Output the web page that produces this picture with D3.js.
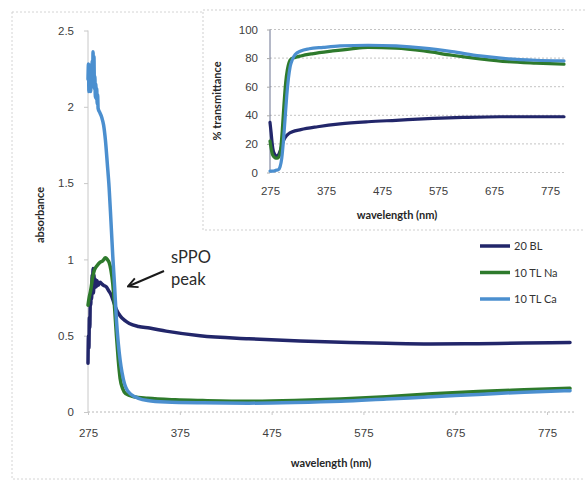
<!DOCTYPE html>
<html>
<head>
<meta charset="utf-8">
<script src="https://cdn.jsdelivr.net/npm/d3@7"></script>
<style>
  html, body { margin: 0; padding: 0; background: #fff; }
  svg { display: block; font-family: Lato, "Open Sans", sans-serif; }
</style>
</head>
<body>
<svg id="chart" width="585" height="482"></svg>
<script>
// ---- data ----
const seriesNames = ["20 BL", "10 TL Na", "10 TL Ca"];
const seriesColors = ["#22266a", "#2e7a2c", "#4b8fcf"];
const xTicks = [275, 375, 475, 575, 675, 775];
const absTicks = [0, 0.5, 1, 1.5, 2, 2.5];
const transTicks = [0, 20, 40, 60, 80, 100];

// absorbance spectra: [wavelength nm, absorbance]
const absBL = [
  [275,0.32],[275.5,0.50],[276,0.42],[276.5,0.62],[277,0.55],[277.5,0.72],[278,0.70],[278.5,0.80],
  [279,0.74],[279.5,0.90],[280,0.80],[280.5,0.94],[281,0.78],[281.5,0.90],[282,0.81],[283,0.87],
  [284,0.82],[285,0.86],[286,0.83],[288,0.85],[290,0.84],[292,0.83],[295,0.82],[298,0.79],
  [300,0.77],[303,0.72],[306,0.67],[310,0.63],[315,0.60],[320,0.58],[330,0.56],[342,0.55],
  [360,0.53],[397,0.50],[450,0.48],[506,0.465],[560,0.455],[600,0.45],[648,0.446],[700,0.448],
  [750,0.452],[800,0.455]
];
const absNa = [
  [275,0.70],[276,0.74],[278,0.80],[280,0.88],[282,0.93],[285,0.96],[288,0.98],[291,0.99],
  [294,1.01],[296,1.00],[298,0.98],[300,0.93],[302,0.84],[304,0.68],[306,0.50],[308,0.34],
  [310,0.22],[313,0.15],[316,0.12],[325,0.10],[340,0.09],[370,0.08],[400,0.075],[450,0.07],
  [500,0.075],[550,0.085],[600,0.10],[650,0.12],[700,0.135],[750,0.145],[800,0.155]
];
const absCa = [
  [275,2.18],[275.5,2.28],[276,2.10],[276.5,2.25],[277,2.12],[277.5,2.27],[278,2.10],[278.5,2.24],
  [279,2.15],[279.5,2.30],[280,2.14],[280.5,2.36],[281,2.18],[281.5,2.33],[282,2.12],[282.5,2.20],
  [283,2.06],[283.5,2.15],[284,2.05],[284.5,2.12],[285,2.02],[285.5,2.08],[286,1.99],[288,1.96],
  [290,1.93],[292,1.88],[294,1.78],[296,1.63],[298,1.47],[300,1.25],[302,1.02],[304,0.82],
  [306,0.60],[308,0.45],[310,0.34],[312,0.26],[315,0.18],[318,0.14],[322,0.115],[330,0.09],
  [340,0.075],[360,0.065],[400,0.06],[450,0.058],[500,0.062],[550,0.07],[600,0.085],[650,0.10],
  [700,0.115],[750,0.13],[800,0.14]
];

// % transmittance spectra: [wavelength nm, %T]
const trBL = [
  [275,35],[277,28],[279,20],[281,15],[283,13],[285,12],[288,11],[291,13],[294,16],[297,20],
  [300,23],[303,25],[308,27],[315,28.5],[330,30],[360,32],[400,34],[450,35.5],[500,36.5],
  [566,37.8],[620,38.5],[686,39],[750,39],[800,39]
];
const trNa = [
  [275,22],[277,17],[279,13],[282,11],[285,10],[288,10],[291,11],[294,16],[297,30],[300,48],
  [303,63],[306,72],[309,77],[313,79.5],[320,80.5],[330,81.5],[350,83],[387,85],[420,86.5],
  [450,87.5],[500,87],[550,85],[600,82],[650,79.5],[700,77.5],[750,76.5],[800,75.8]
];
const trCa = [
  [275,1],[280,1],[285,1.5],[290,2],[293,4],[296,10],[299,22],[302,38],[305,54],[308,66],
  [311,74],[315,79],[320,82.5],[330,85],[345,86.5],[370,87.5],[400,88.5],[450,89],[500,88.5],
  [550,87],[600,84.5],[650,81.5],[700,79.5],[750,78.5],[800,78]
];

const absSeries = [absBL, absNa, absCa];
const trSeries = [trBL, trNa, trCa];

// ---- drawing ----
const svg = d3.select("#chart");
const labelColor = "#404040";

// outer chart frame
svg.append("rect")
  .attr("x", 12).attr("y", 12).attr("width", 590).attr("height", 467)
  .attr("fill", "#fff").attr("stroke", "#d4d4d4").attr("stroke-width", 1)
  .attr("stroke-dasharray", "2,2");

// main absorbance plot
const x = d3.scaleLinear().domain([275, 800]).range([88, 570]);
const y = d3.scaleLinear().domain([0, 2.5]).range([412, 30.5]);

// y axis
const yAxis = svg.append("g").attr("transform", "translate(88,0)")
  .call(d3.axisLeft(y).tickValues(absTicks).tickSize(4).tickPadding(10).tickFormat(d3.format("")));
yAxis.select(".domain").attr("stroke", "#c8c8c8").attr("d", `M-0,${y(2.5)}V${y(0)}`);
yAxis.selectAll(".tick line").attr("stroke", "#c8c8c8");
yAxis.selectAll("text").attr("fill", labelColor).attr("font-size", 11.5);

// x axis
const xAxis = svg.append("g").attr("transform", "translate(0,412)")
  .call(d3.axisBottom(x).tickValues(xTicks).tickSize(3).tickPadding(14));
xAxis.select(".domain").attr("stroke", "#b8b8b8").attr("stroke-dasharray", "2,2")
  .attr("d", `M${x(275)},0H${x(805)}`);
xAxis.selectAll(".tick line").attr("stroke", "#c8c8c8");
xAxis.selectAll("text").attr("fill", labelColor).attr("font-size", 11.5);

svg.append("text")
  .attr("transform", "translate(44,215) rotate(-90)")
  .attr("text-anchor", "middle").attr("font-size", 11).attr("font-weight", "bold")
  .attr("fill", "#262626").text("absorbance");
svg.append("text")
  .attr("x", 331).attr("y", 467)
  .attr("text-anchor", "middle").attr("font-size", 11).attr("font-weight", "bold")
  .attr("fill", "#262626").text("wavelength (nm)");

const absLine = d3.line().x(d => x(d[0])).y(d => y(d[1])).curve(d3.curveMonotoneX);
absSeries.forEach((s, i) => {
  svg.append("path").datum(s).attr("d", absLine)
    .attr("fill", "none").attr("stroke", seriesColors[i])
    .attr("stroke-width", 3.5).attr("stroke-linejoin", "round").attr("stroke-linecap", "round");
});

// annotation
svg.append("text").attr("x", 171).attr("y", 263).attr("font-size", 16.5)
  .attr("fill", "#2b2b2b").text("sPPO");
svg.append("text").attr("x", 171).attr("y", 285).attr("font-size", 16.5)
  .attr("fill", "#2b2b2b").text("peak");
svg.append("defs").append("marker")
  .attr("id", "head").attr("viewBox", "0 0 10 10").attr("refX", 8).attr("refY", 5)
  .attr("markerWidth", 6).attr("markerHeight", 6).attr("orient", "auto-start-reverse")
  .append("path").attr("d", "M1,1L9,5L1,9").attr("fill", "none")
  .attr("stroke", "#1a1a1a").attr("stroke-width", 1.6);
svg.append("line").attr("x1", 164).attr("y1", 271).attr("x2", 129).attr("y2", 286)
  .attr("stroke", "#1a1a1a").attr("stroke-width", 2).attr("marker-end", "url(#head)");

// legend
const legend = svg.append("g");
seriesNames.forEach((n, i) => {
  const ly = 246 + i * 26.5;
  legend.append("line").attr("x1", 480).attr("x2", 510).attr("y1", ly).attr("y2", ly)
    .attr("stroke", seriesColors[i]).attr("stroke-width", 3.5);
  legend.append("text").attr("x", 514).attr("y", ly + 4).attr("font-size", 11)
    .attr("fill", "#333").text(n);
});

// inset transmittance plot
svg.append("rect")
  .attr("x", 203).attr("y", 10).attr("width", 400).attr("height", 220)
  .attr("fill", "#fff").attr("stroke", "#cfcfcf").attr("stroke-width", 1)
  .attr("stroke-dasharray", "2,2");

const xi = d3.scaleLinear().domain([275, 800]).range([270, 564]);
const yi = d3.scaleLinear().domain([0, 100]).range([172.5, 29.5]);

const grid = svg.append("g");
transTicks.forEach(t => {
  grid.append("line").attr("x1", 270).attr("x2", 564).attr("y1", yi(t)).attr("y2", yi(t))
    .attr("stroke", "#c4c4c4").attr("stroke-width", 1).attr("stroke-dasharray", "2,2");
});

const yiAxis = svg.append("g").attr("transform", "translate(270,0)")
  .call(d3.axisLeft(yi).tickValues(transTicks).tickSize(3).tickPadding(9));
yiAxis.select(".domain").attr("stroke", "#6b7390").attr("d", `M0,${yi(100)}V${yi(0)}`);
yiAxis.selectAll(".tick line").attr("stroke", "#aaa");
yiAxis.selectAll("text").attr("fill", labelColor).attr("font-size", 11.5);

const xiAxis = svg.append("g").attr("transform", `translate(0,${yi(0)})`)
  .call(d3.axisBottom(xi).tickValues(xTicks).tickSize(0).tickPadding(14));
xiAxis.select(".domain").remove();
xiAxis.selectAll("text").attr("fill", labelColor).attr("font-size", 11.5);

svg.append("text")
  .attr("transform", "translate(221,101) rotate(-90)")
  .attr("text-anchor", "middle").attr("font-size", 11).attr("font-weight", "bold")
  .attr("fill", "#262626").text("% transmittance");
svg.append("text")
  .attr("x", 397).attr("y", 219)
  .attr("text-anchor", "middle").attr("font-size", 11).attr("font-weight", "bold")
  .attr("fill", "#262626").text("wavelength (nm)");

const trLine = d3.line().x(d => xi(d[0])).y(d => yi(d[1])).curve(d3.curveMonotoneX);
trSeries.forEach((s, i) => {
  svg.append("path").datum(s).attr("d", trLine)
    .attr("fill", "none").attr("stroke", seriesColors[i])
    .attr("stroke-width", 3.2).attr("stroke-linejoin", "round").attr("stroke-linecap", "round");
});
</script>
</body>
</html>
